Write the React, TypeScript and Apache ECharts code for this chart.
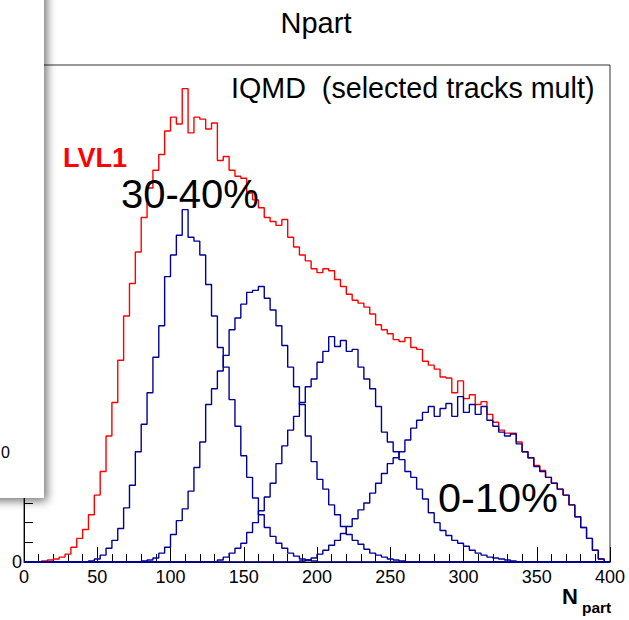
import React, { useEffect, useRef } from "react";
import * as echarts from "echarts";

// Histogram binning: 100 bins of width 4 over Npart 0..400
const BIN_WIDTH = 4;
const N_BINS = 100;

// LVL1 trigger, all events (counts per bin, bin 0 starts at Npart = 0)
const lvl1Counts = [
  0, 0, 0, 1, 2, 3, 5, 8, 15, 24,
  33, 48, 68, 92, 128, 162, 205, 250, 283, 315,
  350, 380, 398, 414, 438, 452, 445, 481, 436, 452,
  450, 440, 446, 408, 412, 398, 392, 390, 375, 368,
  360, 350, 346, 342, 348, 330, 320, 312, 306, 298,
  294, 298, 296, 287, 280, 272, 266, 263, 259, 252,
  241, 236, 232, 226, 224, 228, 218, 216, 204, 200,
  196, 188, 187, 172, 184, 166, 170, 160, 163, 150,
  142, 134, 131, 131, 122, 112, 106, 98, 93, 86,
  80, 74, 68, 58, 46, 35, 24, 12, 3, 0,
];

// Centrality classes from selected tracks multiplicity (first non-empty bin + counts)
const cent3040Start = 11;
const cent3040Counts = [
  1, 3, 7, 14, 22, 34, 55, 78, 112, 140,
  172, 208, 240, 290, 312, 332, 358, 330, 326, 312,
  282, 250, 218, 198, 165, 138, 108, 86, 65, 48,
  35, 26, 19, 14, 9, 6, 3, 2, 1,
];

const cent2030Start = 20;
const cent2030Counts = [
  1, 2, 4, 9, 15, 28, 42, 54, 72, 96,
  122, 160, 176, 194, 210, 236, 248, 262, 274, 276,
  280, 268, 256, 240, 220, 198, 178, 160, 128, 102,
  84, 74, 58, 48, 36, 28, 22, 18, 13, 9,
  7, 5, 3, 2, 1,
];

const cent1020Start = 33;
const cent1020Counts = [
  2, 5, 9, 14, 19, 30, 40, 52, 66, 80,
  100, 118, 134, 148, 162, 178, 186, 203, 214, 229,
  219, 225, 214, 216, 198, 186, 176, 158, 132, 122,
  112, 104, 92, 86, 74, 64, 50, 40, 32, 27,
  22, 19, 16, 12, 9, 7, 5, 4, 3, 2,
  1,
];

const cent010Start = 47;
const cent010Counts = [
  1, 2, 4, 8, 12, 17, 22, 29, 36, 44,
  53, 60, 70, 80, 90, 100, 106, 112, 124, 136,
  144, 152, 158, 148, 156, 161, 148, 168, 152, 160,
  150, 158, 144, 138, 132, 128, 130, 120, 112, 106,
  97, 92, 86, 80, 74, 68, 58, 46, 35, 24,
  12, 3, 0,
];

const X_MIN = 0;
const X_MAX = 400;
const X_INTERVAL = 50;
const Y_MAX = 505;

const FONT = "'Liberation Sans', Arial, Helvetica, sans-serif";
const RED = "#ff0000";
const BLUE = "#000099";

// Turn bin contents into step-line vertices (left bin edges + closing edge)
function toSteps(start: number, counts: number[]): number[][] {
  const full: number[] = new Array(N_BINS).fill(0);
  counts.forEach((v, i) => {
    full[start + i] = v;
  });
  const pts = full.map((v, i) => [i * BIN_WIDTH, v]);
  pts.push([N_BINS * BIN_WIDTH, full[N_BINS - 1]]);
  return pts;
}

function histSeries(name: string, start: number, counts: number[], color: string) {
  return {
    name,
    type: "line",
    step: "end",
    symbol: "none",
    data: toSteps(start, counts),
    lineStyle: { color, width: 1.4 },
    itemStyle: { color },
    silent: true,
  };
}

export default function App() {
  const ref = useRef<HTMLDivElement>(null);

  useEffect(() => {
    if (!ref.current) return;
    const chart = echarts.init(ref.current, null, { renderer: "svg" });
    chart.setOption({
      animation: false,
      backgroundColor: "#ffffff",
      grid: {
        left: 24,
        right: 19,
        top: 65,
        bottom: 58,
        show: true,
        borderColor: "#333333",
        borderWidth: 1,
        backgroundColor: "transparent",
      },
      xAxis: {
        type: "value",
        min: X_MIN,
        max: X_MAX,
        interval: X_INTERVAL,
        splitLine: { show: false },
        axisLine: { show: true, lineStyle: { color: "#000", width: 1 } },
        axisTick: { show: true, inside: true, length: 15, lineStyle: { color: "#000" } },
        minorTick: { show: true, splitNumber: 5, length: 8, lineStyle: { color: "#000" } },
        axisLabel: {
          color: "#000",
          fontFamily: FONT,
          fontSize: 18,
          margin: 6,
          showMinLabel: true,
          showMaxLabel: true,
        },
      },
      yAxis: {
        type: "value",
        min: 0,
        max: Y_MAX,
        interval: 100,
        splitLine: { show: false },
        axisLine: { show: true, lineStyle: { color: "#000", width: 1 } },
        axisTick: { show: true, inside: true, length: 15, lineStyle: { color: "#000" } },
        minorTick: { show: true, splitNumber: 5, length: 9, lineStyle: { color: "#000" } },
        axisLabel: {
          color: "#000",
          fontFamily: FONT,
          fontSize: 18,
          margin: 2,
          showMaxLabel: false,
          formatter: (v: number) => (v === 0 ? "0" : ""),
        },
      },
      series: [
        histSeries("LVL1", 0, lvl1Counts, RED),
        histSeries("30-40%", cent3040Start, cent3040Counts, BLUE),
        histSeries("20-30%", cent2030Start, cent2030Counts, BLUE),
        histSeries("10-20%", cent1020Start, cent1020Counts, BLUE),
        histSeries("0-10%", cent010Start, cent010Counts, BLUE),
      ],
      graphic: [
        {
          type: "text",
          z: 100,
          x: 316,
          y: 23,
          style: {
            text: "Npart",
            font: `29px ${FONT}`,
            fill: "#000",
            textAlign: "center",
            textVerticalAlign: "middle",
          },
        },
        {
          type: "text",
          z: 100,
          x: 231,
          y: 88,
          style: {
            text: "IQMD  (selected tracks mult)",
            font: `28.7px ${FONT}`,
            fill: "#000",
            textAlign: "left",
            textVerticalAlign: "middle",
          },
        },
        {
          type: "text",
          z: 100,
          x: 63,
          y: 158,
          style: {
            text: "LVL1",
            font: `bold 27px ${FONT}`,
            fill: RED,
            textAlign: "left",
            textVerticalAlign: "middle",
          },
        },
        {
          type: "text",
          z: 100,
          x: 121,
          y: 194,
          style: {
            text: "30-40%",
            font: `40px ${FONT}`,
            fill: "#000",
            textAlign: "left",
            textVerticalAlign: "middle",
          },
        },
        {
          type: "text",
          z: 100,
          x: 438,
          y: 497,
          style: {
            text: "0-10%",
            font: `41.5px ${FONT}`,
            fill: "#000",
            textAlign: "left",
            textVerticalAlign: "middle",
          },
        },
        {
          type: "text",
          z: 100,
          x: 562,
          y: 596,
          style: {
            text: "N",
            font: `bold 22px ${FONT}`,
            fill: "#000",
            textAlign: "left",
            textVerticalAlign: "middle",
          },
        },
        {
          type: "text",
          z: 100,
          x: 582,
          y: 607,
          style: {
            text: "part",
            font: `bold 15.5px ${FONT}`,
            fill: "#000",
            textAlign: "left",
            textVerticalAlign: "middle",
          },
        },
        // overlapping canvas window at the left edge
        {
          type: "rect",
          z: 110,
          shape: { x: -20, y: -20, width: 64, height: 518 },
          style: {
            fill: "#ffffff",
            shadowBlur: 10,
            shadowColor: "rgba(0,0,0,0.55)",
            shadowOffsetX: 3,
            shadowOffsetY: 3,
          },
        },
        {
          type: "text",
          z: 111,
          x: 1,
          y: 452,
          style: {
            text: "0",
            font: `16px ${FONT}`,
            fill: "#000",
            textAlign: "left",
            textVerticalAlign: "middle",
          },
        },
      ],
    });
    return () => {
      chart.dispose();
    };
  }, []);

  return (
    <div
      ref={ref}
      style={{ position: "absolute", left: 0, top: 0, width: 629, height: 620, background: "#fff" }}
    />
  );
}
